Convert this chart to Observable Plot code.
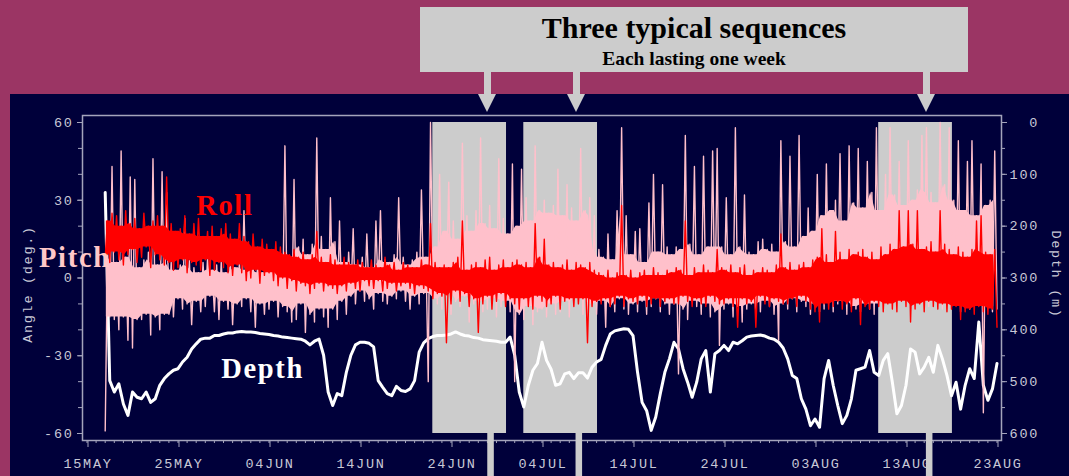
<!DOCTYPE html>
<html><head><meta charset="utf-8">
<script src="https://cdn.jsdelivr.net/npm/d3@7"></script>
<script src="https://cdn.jsdelivr.net/npm/@observablehq/plot@0.6"></script>
<style>
html,body{margin:0;padding:0;background:#9b3564;}
#wrap{position:relative;width:1069px;height:476px;overflow:hidden;background:#9b3564;}
#chart{position:absolute;left:10px;top:94px;width:1059px;height:382px;background:#00003a;}
#chart svg{font-family:"Liberation Mono",monospace;font-size:13.5px;letter-spacing:1.7px;}
#chart svg g[aria-label="series label"] text{letter-spacing:0;}
#titlebox{position:absolute;left:420px;top:7px;width:548px;height:65px;background:#cccccc;font-family:"Liberation Serif","Times New Roman",serif;font-weight:bold;color:#000;text-align:center;z-index:2;}
#title{position:absolute;left:0;right:0;top:6.2px;font-size:30px;line-height:30px;white-space:nowrap;}
#subtitle{position:absolute;left:0;right:0;top:41.7px;font-size:19.5px;line-height:19.5px;white-space:nowrap;}
.shaft{position:absolute;top:72px;width:7px;height:22px;background:#cccccc;z-index:2;}
.head{position:absolute;top:94px;width:0;height:0;border-left:9.5px solid transparent;border-right:9.5px solid transparent;border-top:18px solid #cccccc;z-index:2;}
</style>
</head>
<body>
<div id="wrap">
  <div id="chart"></div>
  <div id="titlebox"><div id="title">Three typical sequences</div><div id="subtitle">Each lasting one week</div></div>
  <div class="shaft" style="left:483.5px"></div><div class="head" style="left:477.5px"></div>
  <div class="shaft" style="left:572.8px"></div><div class="head" style="left:566.8px"></div>
  <div class="shaft" style="left:923.3px"></div><div class="head" style="left:917.3px"></div>
</div>
<script>
// ---- data (days counted from 15 May) ----
const xTickLabels = ["15MAY","25MAY","04JUN","14JUN","24JUN","04JUL","14JUL","24JUL","03AUG","13AUG","23AUG"];
const angleTicks = [-60, -30, 0, 30, 60];
const depthTicks = [0, 100, 200, 300, 400, 500, 600];
const seqStart = [38, 48, 87];
const seqEnd = [46.1, 56.1, 95.1];
const arrowDays = [44.4, 54.1, 92.6];

const tStart = 2;        // first sample (day)
const angleStep = 0.25;  // days between pitch / roll samples
const depthStep = 0.5;   // days between depth samples

const pitch = [
-59,9,-15,43, -16,6,-20,49, -15,8,-24,39, -27,38,-16,4, -16,7,-14,10,
-22,46,-15,5, -20,41,-14,33, -14,6,-15,3, -8,5,-12,23, -10,7,-18,4,
-9,2,-13,6, -11,8,-7,3, -13,5,-16,6, -9,2,-12,7, -18,4,-10,6,
-11,26,-8,3, -13,5,-19,7, -10,2,-14,6, -12,4,-9,6, -15,3,-11,51,
-13,8,-17,38, -16,12,-10,15, -21,9,-14,13, -17,54,-12,16, -15,11,-19,31,
-12,14,-16,22, -9,6,-14,10, -7,19,-10,5, -5,8,-9,17, -8,4,-12,22,
-6,26,-9,7, -10,6,-7,9, -8,31,-5,8, -9,5,-12,7, -7,10,-10,34,
-6,8,-40,60, -8,12,-10,40, -12,18,-6,37, -14,22,-9,15, -11,52,-7,24,
-17,18,-10,26, -9,54,-13,21, -12,28,-8,19, -15,46,-11,23, -9,17,-13,44,
-40,20,-14,42, -16,31,-11,22, -18,51,-13,26, -12,30,-15,25, -10,28,-14,42,
-13,24,-9,36, -15,27,-11,22, -8,50,-14,26, -12,31,-10,24, -14,11,-9,8,
-19,17,-11,7, -13,26,-8,58, -12,24,-14,9, -10,18,-13,19, -9,6,-14,29,
-11,40,-8,10, -13,36,-10,12, -14,9,-10,12, -37,11,-12,55, -16,13,-9,43,
-11,9,-14,47, -10,12,-15,49, -13,50,-26,12, -12,31,-10,9, -15,58,-11,12,
-17,32,-12,10, -10,9,-14,14, -13,15,-9,11, -11,13,-14,10, -24,53,-10,14,
-12,47,-8,12, -13,55,-9,16, -11,27,-14,18, -10,40,-13,24, -12,44,-9,26,
-13,30,-10,48, -9,22,-14,51, -11,29,-12,50, -13,27,-10,45, -12,33,-14,58,
-10,26,-11,40, -8,58,-12,32, -10,45,-9,28, -11,53,-7,30, -12,34,-10,55,
-8,58,-11,33, -10,29,-9,60, -12,36,-8,58, -11,30,-10,53, -13,26,-9,45,
-12,53,-10,24, -9,44,-52,28, -11,30,-13,49, -12
];

const roll = [
8,22,6,25, 10,24,7,20, 5,26,9,21, 11,23,6,19, 8,25,12,20,
4,22,9,24, 7,20,5,39, 6,21,3,18, 4,19,7,24, 2,17,6,21,
5,23,3,16, 7,18,1,20, 3,16,6,19, 4,21,2,17, 1,15,5,21,
2,16,-1,14, 0,17,3,12, -2,15,1,13, 2,11,-1,14, -3,12,0,10,
-4,9,-1,11, -5,8,-2,10, -3,7,-6,9, -4,18,-2,8, -5,6,-3,9,
-4,7,-6,5, -3,8,-5,6, -2,5,-4,7, -5,6,-1,4, -3,7,-4,5,
-1,4,-5,8, -4,5,-2,6, -5,3,-3,6, -2,5,-4,4, -6,4,-3,7,
-4,5,-5,21, -8,6,-6,4, -7,5,-25,4, -10,6,-5,8, -9,22,-6,3,
-11,5,-8,6, -21,4,-10,7, -7,8,-12,3, -9,5,-6,7, -11,4,-8,6,
-10,7,-12,5, -8,6,-11,4, -12,21,-7,8, -9,15,-11,5, -10,6,-7,4,
-12,5,-9,7, -8,3,-11,6, -10,5,-8,4, -25,6,-11,3, -9,2,-10,1,
-8,3,-11,0, -10,2,-7,28, -11,1,-8,3, -9,0,-10,2, -7,3,-11,1,
-10,4,-8,2, -11,1,-9,3, -8,2,-10,4, -10,3,-7,22, -9,1,-11,4,
-8,2,-10,5, -11,3,-7,2, -9,11,-10,4, -10,3,-8,5, -11,2,-19,4,
-8,5,-10,1, -9,3,-19,2, -7,4,-10,3, -11,2,-8,5, -9,17,-10,4,
-10,6,-8,3, -11,5,-7,6, -9,4,-12,7, -13,8,-17,19, -10,9,-12,6,
-11,18,-9,10, -12,7,-10,11, -13,9,-8,10, -18,11,-11,8, -12,10,-9,7,
-11,12,-13,9, -10,13,-12,11, -13,26,-9,12, -11,26,-17,13, -12,26,-10,11,
-13,12,-9,14, -11,10,-12,26, -10,13,-13,11, -12,9,-11,12, -16,10,-13,8,
-12,11,-14,22, -11,24,-13,10, -14,9,-12,11, -19
];

const depth = [
135,498,520,504,543,565,520,530,533,520,540,533,507,494,485,478,475,462,453,437,
427,418,416,416,411,411,408,406,406,404,403,404,404,405,407,408,409,411,412,414,
415,416,417,418,422,429,422,418,449,520,546,523,527,482,449,429,424,424,426,433,
498,511,523,527,509,517,519,514,498,443,425,417,413,411,411,410,408,404,408,411,
412,415,416,419,420,421,422,424,424,414,449,520,549,507,478,465,424,459,476,507,
504,485,482,494,483,483,493,472,462,457,430,408,402,400,398,399,411,482,540,556,
594,568,523,482,456,424,437,475,501,530,501,456,440,520,446,440,430,440,424,427,
421,414,412,411,410,412,416,418,424,435,456,488,494,533,553,585,572,588,494,459,
507,546,581,565,533,478,475,472,440,482,488,459,446,501,562,546,507,437,443,485,
472,453,482,430,456,488,527,501,553,507,475,494,385,507,536,514,465
];

// ---- tables for the marks ----
const pitchData = pitch.map((v, i) => ({day: tStart + i * angleStep, v}));
const rollData = roll.map((v, i) => ({day: tStart + i * angleStep, v}));
const depthData = depth.map((v, i) => ({day: tStart + i * depthStep, v}));
const seqs = seqStart.map((s, i) => ({start: s, end: seqEnd[i]}));
const toY = m => 60 - m / 5;          // depth (m) placed on the angle axis (0 m = 60, 600 m = -60)
const fromY = v => Math.round((60 - v) * 5);

// dense core of each noisy series: the innermost troughs / crests in a short rolling window
function coreBand(vals, half) {
  const pairs = [];
  for (let j = 0; 2 * j + 1 < vals.length; j++) {
    pairs.push({day: tStart + (2 * j + 0.5) * angleStep, lo: vals[2 * j], hi: vals[2 * j + 1]});
  }
  return pairs.map((p, j) => {
    const w = pairs.slice(Math.max(0, j - half), j + half + 1);
    return {day: p.day, lo: d3.max(w, d => d.lo), hi: d3.min(w, d => d.hi)};
  });
}
const pitchCore = coreBand(pitch, 1);
const rollCore = coreBand(roll, 1);

const tickStroke = "#a4a4bc";
const labelFill = "#c8c8d6";

const chart = Plot.plot({
  width: 1059, height: 382,
  marginLeft: 72, marginRight: 68, marginTop: 21, marginBottom: 36,
  insetLeft: 4.5, insetRight: 4.5, insetTop: 7, insetBottom: 7,
  x: {domain: [0, 100], axis: null},
  y: {domain: [-60, 60], axis: null},
  style: {background: "#00003a", color: labelFill},
  marks: [
    Plot.rect(seqs, {x1: "start", x2: "end", y1: -60, y2: 60, fill: "#cccccc"}),
    Plot.line(depthData, {x: "day", y: d => toY(d.v), stroke: "white", strokeWidth: 3, strokeLinejoin: "round"}),
    Plot.areaY(pitchCore, {x: "day", y1: "lo", y2: "hi", fill: "pink"}),
    Plot.line(pitchData, {x: "day", y: "v", stroke: "pink", strokeWidth: 1.4}),
    Plot.areaY(rollCore, {x: "day", y1: "lo", y2: "hi", fill: "red"}),
    Plot.line(rollData, {x: "day", y: "v", stroke: "red", strokeWidth: 1.4}),
    Plot.frame({stroke: tickStroke, strokeWidth: 1.5}),
    Plot.axisY(d3.range(-60, 61, 10), {anchor: "left", tickSize: 4, tickFormat: () => "", stroke: tickStroke, label: null}),
    Plot.axisY(angleTicks, {anchor: "left", tickSize: 5, tickPadding: 4, tickFormat: d => String(d), stroke: tickStroke, fill: labelFill, label: null}),
    Plot.axisY(d3.range(0, 601, 50).map(toY), {anchor: "right", tickSize: 3, tickFormat: () => "", stroke: tickStroke, label: null}),
    Plot.axisY(depthTicks.map(toY), {anchor: "right", tickSize: 5, tickPadding: 32.5, textAnchor: "end", tickFormat: v => String(fromY(v)), stroke: tickStroke, fill: labelFill, label: null}),
    Plot.axisX(d3.range(0, 101, 1), {anchor: "bottom", tickSize: 3, tickFormat: () => "", stroke: tickStroke, label: null}),
    Plot.axisX(d3.range(0, 101, 10), {anchor: "bottom", tickSize: 7, tickPadding: 10.8, dx: 1, tickFormat: d => xTickLabels[Math.round(d / 10)], stroke: tickStroke, fill: labelFill, label: null}),
    Plot.text(["Angle (deg.)"], {text: d => d, frameAnchor: "left", textAnchor: "middle", rotate: -90, dx: -54.5, dy: 6, fill: labelFill, ariaLabel: "axis title"}),
    Plot.text(["Depth (m)"], {text: d => d, frameAnchor: "right", textAnchor: "middle", rotate: 90, dx: 55, dy: -3.5, fill: labelFill, ariaLabel: "axis title"}),
    Plot.text(["Roll"], {text: d => d, x: [15.15], y: [24.3], fill: "red", fontFamily: "Liberation Serif", fontWeight: "bold", fontSize: 28.5, lineAnchor: "bottom", textAnchor: "middle", ariaLabel: "series label"}),
    Plot.text(["Pitch"], {text: d => d, x: [-1.33], y: [4.2], fill: "#ffc8c8", fontFamily: "Liberation Serif", fontWeight: "bold", fontSize: 28.5, lineAnchor: "bottom", textAnchor: "middle", ariaLabel: "series label"}),
    Plot.text(["Depth"], {text: d => d, x: [19.3], y: [-38.7], fill: "white", fontFamily: "Liberation Serif", fontWeight: "bold", fontSize: 28.5, lineAnchor: "bottom", textAnchor: "middle", ariaLabel: "series label"}),
    Plot.rect(arrowDays, {x1: d => d - 0.36, x2: d => d + 0.36, y1: -60, y2: -78, fill: "#cccccc"})
  ]
});
document.getElementById("chart").appendChild(chart);
</script>
</body></html>
